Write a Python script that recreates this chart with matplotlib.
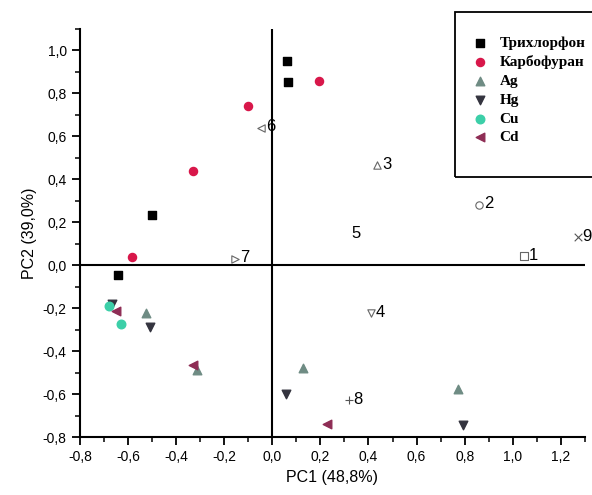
import matplotlib
matplotlib.use('Agg')
import matplotlib.pyplot as plt
from matplotlib.patches import Rectangle
from matplotlib.ticker import MultipleLocator, FuncFormatter

plt.rcParams['font.family'] = ['Liberation Sans', 'DejaVu Sans']

# данные PCA
trichlorfon_x = [0.061, 0.065, -0.50, -0.64]
trichlorfon_y = [0.95, 0.85, 0.233, -0.045]
carbofuran_x = [0.196, -0.103, -0.33, -0.585]
carbofuran_y = [0.857, 0.74, 0.44, 0.04]
ag_x = [-0.525, 0.126, 0.772, -0.315]
ag_y = [-0.225, -0.478, -0.578, -0.49]
hg_x = [-0.668, -0.51, 0.058, 0.795]
hg_y = [-0.18, -0.29, -0.60, -0.744]
cu_x = [-0.68, -0.63]
cu_y = [-0.19, -0.276]
cd_x = [-0.65, -0.328, 0.228]
cd_y = [-0.213, -0.465, -0.741]

# пронумерованные точки 1..9
num_labels = ['1', '2', '3', '4', '5', '6', '7', '8', '9']
num_x = [1.047, 0.86, 0.436, 0.41, 0.31, -0.046, -0.154, 0.318, 1.27]
num_y = [0.042, 0.28, 0.465, -0.225, 0.14, 0.64, 0.03, -0.628, 0.129]
num_markers = ['s', 'o', '^', 'v', 'd', '<', '>', '+', 'x']

fig = plt.figure(figsize=(5.92, 4.95), dpi=100)
ax = fig.add_axes([0.135, 0.117, 0.853, 0.825])

ax.axhline(0, color='black', lw=1.5, zorder=1)
ax.axvline(0, color='black', lw=1.5, zorder=1)

ax.scatter(trichlorfon_x, trichlorfon_y, marker='s', s=30, color='black', label='Трихлорфон', zorder=3)
ax.scatter(carbofuran_x, carbofuran_y, marker='o', s=34, color='#d8174a', label='Карбофуран', zorder=3)
ax.scatter(ag_x, ag_y, marker='^', s=38, color='#6f8c84', label='Ag', zorder=3)
ax.scatter(hg_x, hg_y, marker='v', s=38, color='#34343f', label='Hg', zorder=3)
ax.scatter(cu_x, cu_y, marker='o', s=38, color='#3ccfa8', label='Cu', zorder=3)
ax.scatter(cd_x, cd_y, marker='<', s=38, color='#8e2d55', label='Cd', zorder=4)

for lab, x, y, m in zip(num_labels, num_x, num_y, num_markers):
    if m in ('+', 'x'):
        ax.scatter(x, y, marker=m, s=30, color='#555555', linewidths=0.8, zorder=3)
    elif lab == '5':
        pass
    else:
        ax.scatter(x, y, marker=m, s=28, facecolors='white', edgecolors='#666666', linewidths=0.8, zorder=3)
    ax.text(x + 0.02, y + 0.005, lab, fontsize=12, ha='left', va='center', zorder=5)

ax.set_xlim(-0.8, 1.3)
ax.set_ylim(-0.8, 1.1)
ax.xaxis.set_major_locator(MultipleLocator(0.2))
ax.xaxis.set_minor_locator(MultipleLocator(0.1))
ax.yaxis.set_major_locator(MultipleLocator(0.2))
ax.yaxis.set_minor_locator(MultipleLocator(0.1))
fmt = FuncFormatter(lambda v, p: ('%.1f' % v).replace('.', ',').replace('-0,0', '0,0'))
ax.xaxis.set_major_formatter(fmt)
ax.yaxis.set_major_formatter(fmt)
ax.set_xticks([-0.8, -0.6, -0.4, -0.2, 0.0, 0.2, 0.4, 0.6, 0.8, 1.0, 1.2])

ax.spines['top'].set_visible(False)
ax.spines['right'].set_visible(False)
ax.spines['left'].set_linewidth(1.5)
ax.spines['bottom'].set_linewidth(1.5)
ax.tick_params(which='major', direction='out', length=6, width=1.3, labelsize=10)
ax.tick_params(which='minor', direction='out', length=3.5, width=1.1)

ax.set_xlabel('PC1 (48,8%)', fontsize=11.5, labelpad=4)
ax.set_ylabel('PC2 (39,0%)', fontsize=11.5, labelpad=4)

leg = fig.legend(loc='upper left', bbox_to_anchor=(463 / 592, 1 - 29 / 495), frameon=False,
                 prop={'family': 'Liberation Serif', 'weight': 'bold', 'size': 11},
                 handletextpad=0.7, labelspacing=0.33, handlelength=1.2, borderpad=0)
fig.patches.append(Rectangle((455 / 592, 1 - 177 / 495), 150 / 592, 165 / 495,
                             transform=fig.transFigure, fill=False, edgecolor='black', lw=1.3))

fig.savefig('out.png', dpi=100)
